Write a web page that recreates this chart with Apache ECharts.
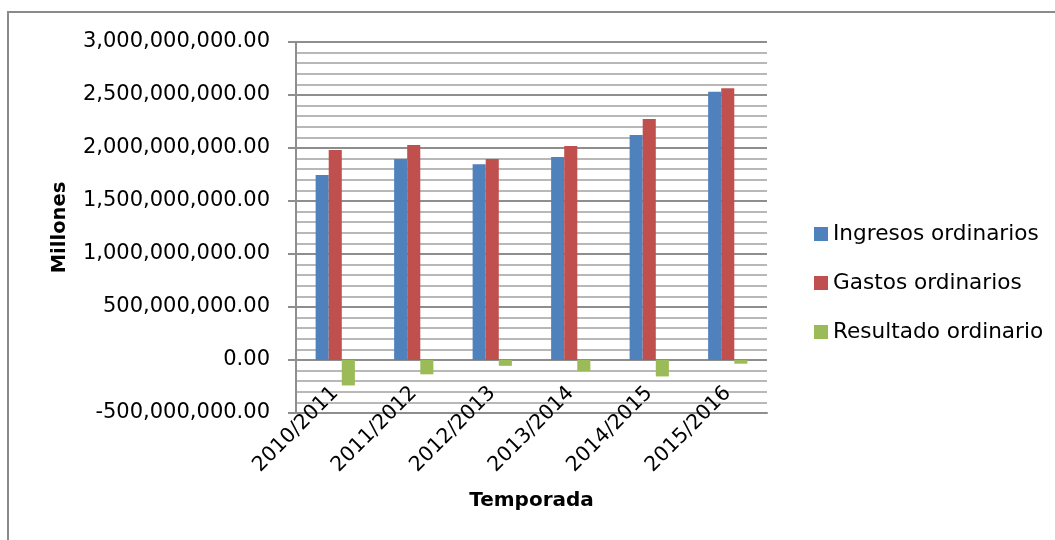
<!DOCTYPE html>
<html>
<head>
<meta charset="utf-8">
<script src="https://cdn.jsdelivr.net/npm/echarts@6/dist/echarts.min.js"></script>
<style>
  html, body { margin: 0; padding: 0; background: #fff; }
  #chart { width: 1055px; height: 540px; }
</style>
</head>
<body>
<div id="chart"></div>
<script>
const categories = ['2010/2011', '2011/2012', '2012/2013', '2013/2014', '2014/2015', '2015/2016'];
const ingresos = [1745000000, 1896000000, 1846000000, 1915000000, 2123000000, 2531000000];
const gastos = [1980000000, 2028000000, 1896000000, 2019000000, 2274000000, 2563000000];
const resultado = [-240000000, -135000000, -55000000, -104000000, -155000000, -35000000];
const seriesNames = ['Ingresos ordinarios', 'Gastos ordinarios', 'Resultado ordinario'];
const yMin = -500000000, yMax = 3000000000, yStep = 500000000;

const FONT = 'DejaVu Sans';
const chart = echarts.init(document.getElementById('chart'), null, { renderer: 'canvas' });

function fmt(v) {
  return Number(v).toLocaleString('en-US', { minimumFractionDigits: 2, maximumFractionDigits: 2 });
}

chart.setOption({
  animation: false,
  backgroundColor: '#ffffff',
  graphic: [{
    type: 'rect', z: -10,
    shape: { x: 8, y: 12, width: 1200, height: 700 },
    style: { fill: 'none', stroke: '#8a8a8a', lineWidth: 2 }
  }],
  grid: { left: 296, right: 288, top: 42, bottom: 127, containLabel: false },
  legend: {
    orient: 'vertical',
    left: 809, top: 218,
    itemWidth: 14, itemHeight: 14, itemGap: 27,
    icon: 'rect',
    data: seriesNames,
    textStyle: { fontFamily: FONT, fontSize: 21.6, color: '#000' }
  },
  xAxis: {
    type: 'category',
    data: categories,
    name: 'Temporada',
    nameLocation: 'middle',
    nameGap: 78,
    nameTextStyle: { fontFamily: FONT, fontSize: 20, fontWeight: 'bold', color: '#000' },
    axisLine: { onZero: false, lineStyle: { color: '#8e8e8e', width: 2 } },
    axisTick: { show: false },
    axisLabel: {
      interval: 0, rotate: 45, margin: -23,
      align: 'right', verticalAlign: 'middle',
      fontFamily: FONT, fontSize: 20.5, color: '#000'
    },
    splitLine: { show: false }
  },
  yAxis: {
    type: 'value',
    min: yMin, max: yMax, interval: yStep,
    name: 'Millones',
    nameLocation: 'middle',
    nameRotate: 90,
    nameGap: 226,
    nameTextStyle: { fontFamily: FONT, fontSize: 19.5, fontWeight: 'bold', color: '#000' },
    axisLine: { show: true, lineStyle: { color: '#8e8e8e', width: 2 } },
    axisTick: { show: true, length: 8, lineStyle: { color: '#8e8e8e', width: 2 } },
    axisLabel: { margin: 26, fontFamily: FONT, fontSize: 21, color: '#000', formatter: fmt },
    splitLine: { show: true, lineStyle: { color: '#8e8e8e', width: 2 } },
    minorTick: { show: false, splitNumber: 5 },
    minorSplitLine: { show: true, lineStyle: { color: '#b8b8b8', width: 2 } }
  },
  series: [
    { name: seriesNames[0], type: 'bar', data: ingresos, barGap: '0%', barCategoryGap: '50%', itemStyle: { color: '#4f81bd' } },
    { name: seriesNames[1], type: 'bar', data: gastos, barGap: '0%', barCategoryGap: '50%', itemStyle: { color: '#c0504d' } },
    { name: seriesNames[2], type: 'bar', data: resultado, barGap: '0%', barCategoryGap: '50%', itemStyle: { color: '#9bbb59' } }
  ]
});
</script>
</body>
</html>
